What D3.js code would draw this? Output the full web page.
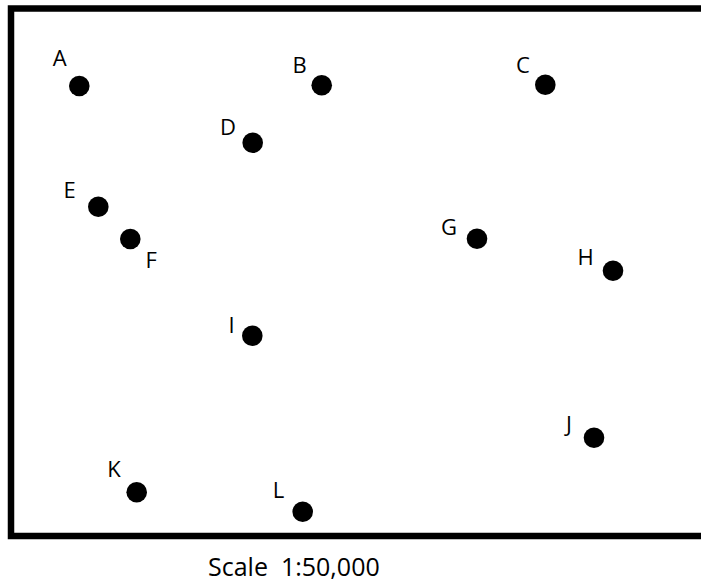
<!DOCTYPE html>
<html>
<head>
<meta charset="utf-8">
<script src="https://cdn.jsdelivr.net/npm/d3@7"></script>
<style>
  html, body { margin: 0; padding: 0; background: #fff; overflow: hidden; }
  svg { display: block; }
  text { font-family: 'Open Sans', sans-serif; fill: #000; }
</style>
</head>
<body>
<div class="vis-map"></div>
<script>
// map points (map units = offset inside the frame)
const names = ['A', 'B', 'C', 'D', 'E', 'F', 'G', 'H', 'I', 'J', 'K', 'L'];
const xs = [68.3, 310.7, 534.3, 241.7, 87.3, 119.3, 466, 602, 241.3, 583, 125.7, 291.7];
const ys = [77.5, 76.8, 76.2, 134.2, 198.2, 230.5, 230.2, 262.2, 327.2, 429.2, 483.8, 503.2];
// label anchor points, same units
const labelXs = [48.7, 288.5, 512, 217, 58.5, 140.3, 438, 574.5, 220.5, 558, 103, 267.5];
const labelYs = [57.2, 64.2, 64.8, 126.5, 189.8, 259.8, 226.5, 256.5, 324.2, 423.2, 468.2, 489.2];
const scaleText = 'Scale\u00a0\u00a01:50,000';

const draw = () => {
    const width = 701, height = 583;
    const frame = {left: 11, top: 8.5, bottom: 536};
    const innerW = width - frame.left;

    const svg = d3.select('.vis-map').append('svg')
        .attr('width', width)
        .attr('height', height);

    const x = d3.scaleLinear()
        .domain([0, innerW])
        .range([frame.left, width]);
    const y = d3.scaleLinear()
        .domain([0, frame.bottom - frame.top])
        .range([frame.top, frame.bottom]);

    // frame: left, top and bottom sides only, the right side is off the page
    svg.append('path')
        .attr('d', `M${width + 10},${frame.top}H${frame.left}V${frame.bottom}H${width + 10}`)
        .attr('fill', 'none')
        .attr('stroke', '#000')
        .attr('stroke-width', 6.5)
        .attr('stroke-linejoin', 'miter');

    const points = names.map((n, i) => ({name: n, x: xs[i], y: ys[i], lx: labelXs[i], ly: labelYs[i]}));

    svg.selectAll('.pt')
        .data(points)
        .enter().append('circle')
        .attr('class', 'pt')
        .attr('cx', d => x(d.x))
        .attr('cy', d => y(d.y))
        .attr('r', 10.3)
        .attr('fill', '#000');

    svg.selectAll('.lbl')
        .data(points)
        .enter().append('text')
        .attr('class', 'lbl')
        .attr('x', d => x(d.lx))
        .attr('y', d => y(d.ly))
        .attr('text-anchor', 'middle')
        .style('font-size', '22px')
        .text(d => d.name);

    svg.append('text')
        .attr('x', 208)
        .attr('y', 576)
        .style('font-size', '25px')
        .text(scaleText);
};

draw();
</script>
</body>
</html>
